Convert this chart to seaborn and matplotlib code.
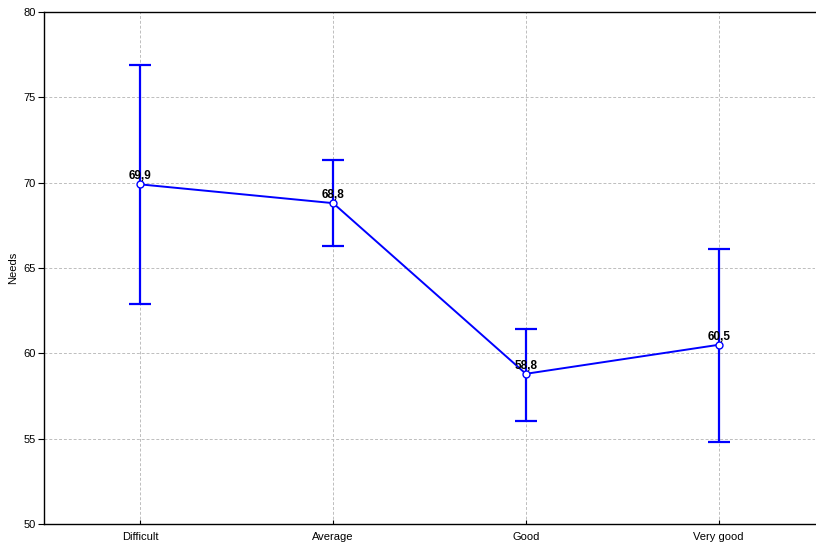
import matplotlib
matplotlib.use("Agg")
import matplotlib.pyplot as plt
import seaborn as sns
from pandas import DataFrame

# Values
categories = ["Difficult", "Average", "Good", "Very good"]
means = [69.9, 68.8, 58.8, 60.5]
upper = [76.9, 71.35, 61.45, 66.1]
lower = [62.9, 66.3, 56.05, 54.8]
value_labels = ["69,9", "68,8", "58,8", "60,5"]


def plot(df: DataFrame) -> None:
    sns.set_style("white")
    plt.rcParams["font.family"] = ["Liberation Sans", "DejaVu Sans"]
    plt.rcParams["xtick.bottom"] = True
    plt.rcParams["ytick.left"] = True

    fig = plt.figure(figsize=(8.16, 5.45), dpi=100)
    ax = fig.add_axes([44 / 816, 21 / 545, 771 / 816, 512 / 545])

    # Error bars (mean with interval)
    pos = list(range(len(df)))
    ax.errorbar(
        pos,
        df["mean"],
        yerr=[df["mean"] - df["lower"], df["upper"] - df["mean"]],
        fmt="none",
        ecolor="blue",
        elinewidth=1.6,
        capsize=8,
        capthick=1.6,
        zorder=2,
    )

    # Mean line with hollow markers
    sns.lineplot(
        x=pos,
        y=df["mean"].values,
        ax=ax,
        color="blue",
        linewidth=1.4,
        marker="o",
        markersize=5,
        markerfacecolor="white",
        markeredgecolor="blue",
        markeredgewidth=1,
        zorder=3,
    )

    # Value labels above each point
    for x, y, lab in zip(pos, df["mean"], df["label"]):
        ax.annotate(lab, (x, y), xytext=(0, 1.5), textcoords="offset points",
                    ha="center", va="bottom", fontsize=8.5, fontweight="bold",
                    color="black", zorder=4)

    ax.set_xlim(-0.5, len(df) - 0.5)
    ax.set_ylim(50, 80)
    ax.set_yticks(range(50, 81, 5))
    ax.set_xticks(pos)
    ax.set_xticklabels(df["category"])
    ax.set_xlabel("")
    ax.set_ylabel("Needs", fontsize=8, color="black")

    ax.grid(True, color="#bdbdbd", linestyle=(0, (3, 2)), linewidth=0.7)
    ax.set_axisbelow(True)

    ax.tick_params(axis="y", direction="out", length=4, width=0.8, labelsize=8,
                   pad=2, colors="black")
    ax.tick_params(axis="x", direction="in", length=3, width=0.8, labelsize=8,
                   pad=6, colors="black")
    for side in ["left", "bottom", "top"]:
        ax.spines[side].set_color("black")
        ax.spines[side].set_linewidth(1.0)
    ax.spines["right"].set_visible(False)

    fig.savefig("out.png", dpi=100)


if __name__ == "__main__":
    df = DataFrame({
        "category": categories,
        "mean": means,
        "upper": upper,
        "lower": lower,
        "label": value_labels,
    })
    plot(df=df)
